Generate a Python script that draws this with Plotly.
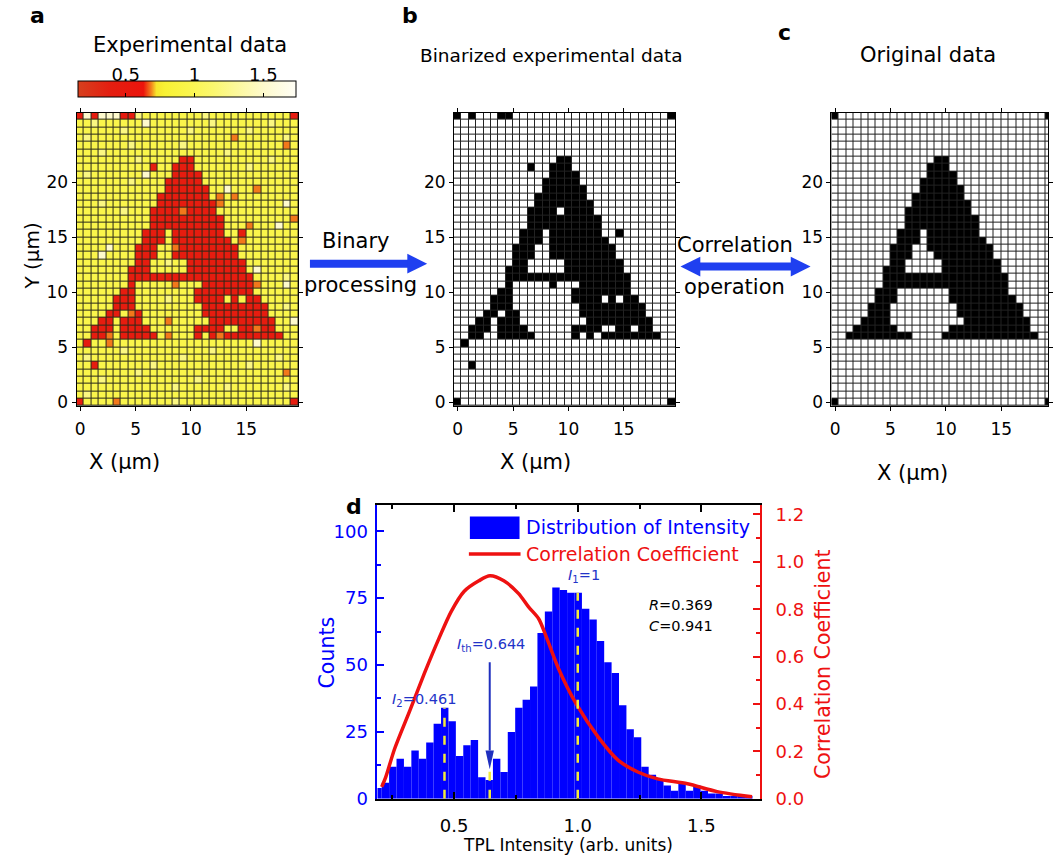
import plotly.graph_objects as go

W, H = 1053, 867
FONT = "DejaVu Sans"
BLUE = "#0000ff"
RED = "#ee1111"
LABEL_BLUE = "#2233c8"
ARROW_BLUE = "#1f3ff0"

# ---------------- panels a-c : 30 x 40 pixel grids (top row first) ----------------
CELL_PITCH = 2.0 / 3.0   # um per pixel
ORIGINAL_ROWS = [
    "#.... ..... ..... ..... ..... ....#",
    "..... ..... ..... ..... ..... .....",
    "..... ..... ..... ..... ..... .....",
    "..... ..... ..... ..... ..... .....",
    "..... ..... ..... ..... ..... .....",
    "..... ..... ..... ..... ..... .....",
    "..... ..... ....# #.... ..... .....",
    "..... ..... ...## #.... ..... .....",
    "..... ..... ...## ##... ..... .....",
    "..... ..... ..### ##... ..... .....",
    "..... ..... ..### ###.. ..... .....",
    "..... ..... .#### ###.. ..... .....",
    "..... ..... .#### ####. ..... .....",
    "..... ..... ##### ####. ..... .....",
    "..... ..... ##### ##### ..... .....",
    "..... ..... ##### ##### ..... .....",
    "..... ....# ##.## ##### ..... .....",
    "..... ....# ##.## ##### #.... .....",
    "..... ...## #..## ##### ##... .....",
    "..... ...## #...# ##### ##... .....",
    "..... ...## ..... ##### ###.. .....",
    "..... ..### ..... ##### ###.. .....",
    "..... ..### ##### ##### ####. .....",
    "..... ..### ##### ##### ####. .....",
    "..... .###. ..... .#### ####. .....",
    "..... .###. ..... .#### ##### .....",
    "..... ###.. ..... ..### ##### #....",
    "..... ###.. ..... ..### ##### #....",
    "....# ###.. ..... ...## ##### ##...",
    "...## ####. ..... .#### ##### ##...",
    "..### ##### #.... ##### ##### ###..",
    "..... ..... ..... ..... ..... .....",
    "..... ..... ..... ..... ..... .....",
    "..... ..... ..... ..... ..... .....",
    "..... ..... ..... ..... ..... .....",
    "..... ..... ..... ..... ..... .....",
    "..... ..... ..... ..... ..... .....",
    "..... ..... ..... ..... ..... .....",
    "..... ..... ..... ..... ..... .....",
    "#.... ..... ..... ..... ..... ....#",
]
BINARIZED_ROWS = [
    "#.#.. .##.. ..... ..... ..... ....#",
    "..... ..... ..... ..... ..... .....",
    "..... ..... ..... ..... ..... .....",
    "..... ..... ..... ..... ..... .....",
    "..... ..... ..... ..... ..... .....",
    "..... ..... ..... ..... ..... .....",
    "..... ..... ....# #.... ..... .....",
    "..... ..... #..## #.... ..... .....",
    "..... ..... ...## ##... ..... .....",
    "..... ..... ..### ##... ..... .....",
    "..... ..... ..### ###.. ..... .....",
    "..... ..... .#### ###.. ..... .....",
    "..... ..... .#### ####. ..... .....",
    "..... ..... ####. ####. ..... .....",
    "..... ..... ##### ##### ..... .....",
    "..... ..... ##### ##### ..... .....",
    "..... ....# ##.## ##### ..#.. .....",
    "..... ....# ##.## ##### #.... .....",
    "..... ...## #..## ##### ##... .....",
    "..... ...## #..## ##### ##... .....",
    "..... ...## ..... ##### ###.. .....",
    "..... ..### ..... ##### ###.. .....",
    "..... ..### ##### ##### ####. .....",
    "..... ..#.. ...#. ..### ####. .....",
    "..... .##.. ..... .#### ####. .....",
    "..... ###.. ..... .#### .#.## .....",
    "..... ###.. ..... ..### ##### #....",
    "....# #.##. ..... ..### ##### #....",
    "...## .###. ..... ...## ##### ##...",
    "..### .#### ..... .#### ..##. ##...",
    "..##. .#### #.... .#.#. ##### ###..",
    ".#... ..... ..... ..... ..... .....",
    "..... ..... ..... ..... ..... .....",
    "..... ..... ..... ..... ..... .....",
    "..#.. ..... ..... ..... ..... .....",
    "..... ..... ..... ..... ..... .....",
    "..... ..... ..... ..... ..... .....",
    "..... ..... ..... ..... ..... .....",
    "..... ..... ..... ..... ..... .....",
    "#.... ..... ..... ..... ..... ....#",
]
# r = red, o = orange, y = yellow, l = light yellow, w = pale
EXPERIMENTAL_ROWS = [
    "rwrww wrrly yyyyy yylyy yyyyy yyyyr",
    "yylyy yyyyw yyyyy yyyly yyyyy ylyyy",
    "yyyyy ylyyy yyyyy lyyyy yyyly yyyyy",
    "ylyyy yyyyy yyyyy yyyyy yoyyy yyyly",
    "yyyyy yylyy yyyyl yyyyy yyyyy yyyoy",
    "yyyly yyyyy yyyyy yyyyy lyyyy yyyyy",
    "yyyyy yyyly yyyyr ryyyy yyyyy ylyyy",
    "yyyyy yyyyy ryyrr ryyyy yyyly yyyyy",
    "ylyyy yyyyw yyyrr rryyy yyyyy yyyyy",
    "yyyyy yylyy yyrrr rryyy yyyyy yyyyy",
    "yyyyy yyyyy yyrrr rrryy wyyyo yyyyy",
    "yyyyy yyyyy yrrrr rrryo yoyyy yyyyy",
    "yyyly yyyyy yrrrr rrrro yyyyy yyywy",
    "yyyyy ylyyy rrrro rrrry yyyyy yyyyy",
    "yyyyy yyyyy rrrrr rrrrr yyyyy yyyyo",
    "yyyyy yyyyy rrrrr rrrrr yyyoy yywyy",
    "yyyyy yyyyr rryrr rrrrr yyryy yyyyy",
    "yyyyy yyyyr rryrr rrrrr ryoyy yyyyy",
    "yyyyw yyyrr ryyor rrrrr rryyy yyyyy",
    "yyywy yyyrr ryyrr rrrrr rryyy yyyyy",
    "yyyyy yyyrr yylyy rrrrr rrryy yyyyy",
    "yyyyy yyrrr yyyyy rrrrr rrryw yyyyy",
    "yyyyy yyrrr rrrrr rrrrr rrrry yyyly",
    "yyyyy yyryy yyyoy yyrrr rrrro yyywy",
    "yyyyy yrryy yyyyy yrrrr rrrry yyyyy",
    "yyyyy rrryy yylyy yrrrr yryrr yyyyy",
    "yyyyy rrryy yyyyy yyrrr rrrrr ryyly",
    "yyyyr ryory yyyyy yyrrr rrrrr ryyyy",
    "yyyrr yrrry yyoyy yyyrr rrrrr rryyw",
    "yyrrr yrrrr yyyyy yrrrr yyrro rryyy",
    "yyrro yrrrr ryoyy yryro rrrrr rrryy",
    "yryyo yyyyy yyyyy yyyyy yyyyw yyyyy",
    "yyyyy ylyyy yyyyy yyyly yyyyy yyyyy",
    "ylyyy yyyyy yyyyl yyyyy yyyyy yylyy",
    "yyryy yyyyy lyyyy yyyyy yyyly yyyyy",
    "yyyyy yyyly yyyyy yyyyy yyyyy yyyoy",
    "yyyly yyyyy yyyyy ylyyy yyyyy yyyyy",
    "yyyyy yyyyy yyyly yyyyy lyyyy yyyly",
    "ylyyy yyyyy yyyyy yyyyy yyyyy yyyyy",
    "ryyyy oyyyy yyyly yyyyy yyyyy yyyyr",
]
LEVEL_VALUES = {"r": 0.45, "o": 0.68, "y": 0.95, "l": 1.2, "w": 1.5}
BINARY_VALUES = {"#": 1, ".": 0}
ZMIN, ZMAX = 0.157, 1.73
COLORBAR_TICKS = [0.5, 1, 1.5]
COLORBAR_TICKTEXT = ["0.5", "1", "1.5"]
MAP_XTICKS = [0, 5, 10, 15]
MAP_YTICKS = [0, 5, 10, 15, 20]

# ---------------- panel d ----------------
BIN_WIDTH = 0.03
BIN_CENTERS = [0.192, 0.222, 0.252, 0.282, 0.312, 0.342, 0.372, 0.402, 0.432, 0.462,
               0.492, 0.522, 0.552, 0.582, 0.612, 0.642, 0.672, 0.702, 0.732, 0.762,
               0.792, 0.822, 0.852, 0.882, 0.912, 0.942, 0.972, 1.002, 1.032, 1.062,
               1.092, 1.122, 1.152, 1.182, 1.212, 1.242, 1.272, 1.302, 1.332, 1.362,
               1.392, 1.422, 1.452, 1.482, 1.512, 1.542, 1.572, 1.602, 1.632, 1.662,
               1.692, 1.722]
COUNTS = [4, 6, 12, 15, 12, 18, 15, 21, 28, 34,
          29, 16, 20, 22, 8, 7, 15, 10, 25, 34,
          37, 42, 62, 70, 79, 78, 77, 77, 71, 67,
          59, 51, 47, 35, 26, 23, 12, 9, 7, 5,
          3, 6, 3, 5, 3, 2, 2, 1, 1, 1,
          1, 0]
CORR_X = [0.207, 0.223, 0.259, 0.32, 0.38, 0.44, 0.488, 0.54, 0.60, 0.645, 0.701,
          0.761, 0.801, 0.842, 0.874, 0.922, 0.994, 1.083, 1.163, 1.243, 1.323,
          1.444, 1.564, 1.705]
CORR_Y = [0.05, 0.09, 0.21, 0.37, 0.53, 0.68, 0.79, 0.875, 0.92, 0.941, 0.92,
          0.866, 0.81, 0.76, 0.68, 0.55, 0.40, 0.26, 0.163, 0.113, 0.084,
          0.063, 0.03, 0.008]
MARK_X = [0.461, 0.644, 1.0]
MARK_TOP = [34, 11, 77]
COUNT_TICKS = [0, 25, 50, 75, 100]
COUNT_MINOR = [12.5, 37.5, 62.5, 87.5]
CORR_TICKS = [0.0, 0.2, 0.4, 0.6, 0.8, 1.0, 1.2]
CORR_MINOR = [0.1, 0.3, 0.5, 0.7, 0.9, 1.1]
INT_TICKS = [0.5, 1.0, 1.5]
INT_MINOR = [0.25, 0.75, 1.25]

COLORSCALE = [
    [0.0, "#d6401e"], [0.15, "#e41e10"], [0.30, "#ec140c"], [0.335, "#f2801c"],
    [0.36, "#f7e62c"], [0.40, "#f8f234"], [0.50, "#faf54a"], [0.62, "#fbf76e"],
    [0.72, "#fcf899"], [0.85, "#fefacc"], [1.0, "#fffef6"],
]


def grid(rows, mapping):
    return [[mapping[ch] for ch in row.replace(" ", "")] for row in reversed(rows)]


def px(x):
    return x / W


def py(y):
    return 1 - y / H


fig = go.Figure()

common_hm = dict(x0=0, dx=CELL_PITCH, y0=0, dy=CELL_PITCH, xgap=1, ygap=1, hoverinfo="skip")
fig.add_trace(go.Heatmap(
    z=grid(EXPERIMENTAL_ROWS, LEVEL_VALUES), zmin=ZMIN, zmax=ZMAX, colorscale=COLORSCALE,
    xaxis="x", yaxis="y",
    colorbar=dict(orientation="h", x=px((77 + 295) / 2), xanchor="center",
                  y=py(102), yanchor="bottom", len=218, lenmode="pixels",
                  thickness=16, thicknessmode="pixels", outlinewidth=1, outlinecolor="black",
                  ticks="inside", tickvals=COLORBAR_TICKS, ticklen=4, tickcolor="black",
                  showticklabels=False, xpad=0, ypad=0),
    **common_hm))
fig.add_trace(go.Heatmap(
    z=grid(BINARIZED_ROWS, BINARY_VALUES), zmin=0, zmax=1,
    colorscale=[[0, "white"], [1, "black"]], showscale=False,
    xaxis="x2", yaxis="y2", **common_hm))
fig.add_trace(go.Heatmap(
    z=grid(ORIGINAL_ROWS, BINARY_VALUES), zmin=0, zmax=1,
    colorscale=[[0, "white"], [1, "black"]], showscale=False,
    xaxis="x3", yaxis="y3", **common_hm))

# panel d
fig.add_trace(go.Bar(x=BIN_CENTERS, y=COUNTS, width=BIN_WIDTH,
                     marker=dict(color=BLUE, line_width=0),
                     xaxis="x4", yaxis="y4", hoverinfo="skip"))
fig.add_trace(go.Scatter(x=CORR_X, y=CORR_Y, mode="lines",
                         line=dict(color=RED, width=3.5, shape="spline", smoothing=0.8),
                         xaxis="x4", yaxis="y5", hoverinfo="skip"))
# colorbar tick-label axis
fig.add_trace(go.Scatter(x=[None], y=[None], xaxis="x5", yaxis="y6", hoverinfo="skip"))

tickfont = dict(family=FONT, size=17, color="black")


def map_axes(xdom, xrange_, ydom, yanchor, xanchor):
    xa = dict(domain=xdom, range=xrange_, tickvals=MAP_XTICKS, ticks="outside", ticklen=4,
              tickcolor="black", showline=True, linecolor="black", linewidth=1,
              mirror="ticks", showgrid=False, zeroline=False, tickfont=tickfont,
              anchor=yanchor, ticklabelstandoff=4)
    ya = dict(domain=ydom, range=[-CELL_PITCH / 2, 40 * CELL_PITCH - CELL_PITCH / 2],
              tickvals=MAP_YTICKS, ticks="outside", ticklen=4, tickcolor="black",
              showline=True, linecolor="black", linewidth=1, mirror="ticks",
              showgrid=False, zeroline=False, tickfont=tickfont, anchor=xanchor)
    return xa, ya


ydom_maps = [py(410), py(113)]
xr_full = [-CELL_PITCH / 2, 30 * CELL_PITCH - CELL_PITCH / 2]
px_per_um = 223 / 20.0
xa1, ya1 = map_axes([px(75), px(298)], xr_full, ydom_maps, "y", "x")
xa2, ya2 = map_axes([px(455), px(678)], xr_full, ydom_maps, "y2", "x2")
xa3, ya3 = map_axes([px(835), 1.0], [-CELL_PITCH / 2, -CELL_PITCH / 2 + 218 / px_per_um],
                    ydom_maps, "y3", "x3")

dfont = dict(family=FONT, size=18)
layout = dict(
    width=W, height=H, margin=dict(l=0, r=0, t=0, b=0),
    paper_bgcolor="white", plot_bgcolor="white", showlegend=False,
    font=dict(family=FONT, color="black"),
    xaxis=xa1, yaxis=ya1, xaxis2=xa2, yaxis2=ya2, xaxis3=xa3, yaxis3=ya3,
    xaxis4=dict(domain=[px(378), px(763)], range=[0.19, 1.737], anchor="y4",
                tickvals=INT_TICKS, ticktext=["0.5", "1.0", "1.5"], ticks="inside",
                ticklen=7, tickwidth=1.5, tickcolor="black", ticklabelstandoff=10,
                minor=dict(tickvals=INT_MINOR, ticks="inside", ticklen=4, tickcolor="black"),
                showline=True, linecolor="black", linewidth=2, mirror="ticks",
                showgrid=False, zeroline=False, tickfont=dict(dfont, color="black")),
    yaxis4=dict(domain=[py(808), py(510)], range=[0, 110], anchor="x4",
                tickvals=COUNT_TICKS, ticks="inside", ticklen=7, tickwidth=1.5,
                tickcolor=BLUE, minor=dict(tickvals=COUNT_MINOR, ticks="inside",
                                           ticklen=4, tickcolor=BLUE),
                showline=True, linecolor=BLUE, linewidth=2, showgrid=False,
                zeroline=False, tickfont=dict(dfont, color=BLUE), ticklabelstandoff=4),
    yaxis5=dict(range=[0, 1.242], overlaying="y4", anchor="x4", side="right",
                tickvals=CORR_TICKS, ticktext=["%.1f" % v for v in CORR_TICKS],
                ticks="inside", ticklen=7, tickwidth=1.5, tickcolor=RED,
                minor=dict(tickvals=CORR_MINOR, ticks="inside", ticklen=4, tickcolor=RED),
                showline=True, linecolor=RED, linewidth=2, showgrid=False,
                zeroline=False, tickfont=dict(dfont, color=RED), ticklabelstandoff=10),
    xaxis5=dict(domain=[px(77), px(295)], range=[ZMIN, ZMAX], anchor="y6", side="top",
                tickvals=COLORBAR_TICKS, ticktext=COLORBAR_TICKTEXT, ticks="",
                showline=False, showgrid=False, zeroline=False,
                tickfont=dict(family=FONT, size=18, color="black")),
    yaxis6=dict(domain=[py(102), py(86)], range=[0, 1], visible=False, anchor="x5"),
)
fig.update_layout(**layout)

# dark grid background under the pixel maps
for xr, yr, col in (("x", "y", "#2a2a1a"), ("x2", "y2", "#222222"), ("x3", "y3", "#222222")):
    fig.add_shape(type="rect", xref=xr + " domain", yref=yr + " domain", x0=0, x1=1,
                  y0=0, y1=1, fillcolor=col, line_width=0, layer="below")

# yellow dashed markers in panel d
for xv, top in zip(MARK_X, MARK_TOP):
    fig.add_shape(type="line", xref="x4", yref="y4", x0=xv, x1=xv, y0=0, y1=top,
                  line=dict(color="#f2ea3a", width=2.5, dash="dash"))

# threshold arrow (shaft + head) in panel d
ARROW_START = 51
ARROW_HEAD_BASE = 18
fig.add_shape(type="line", xref="x4", yref="y4", x0=MARK_X[1], x1=MARK_X[1],
              y0=ARROW_START, y1=ARROW_HEAD_BASE, line=dict(color="#1f2fbf", width=2))
fig.add_shape(type="path", xref="x4", yref="y4",
              path="M %.4f,%.2f L %.4f,%.2f L %.4f,%.2f Z" % (
                  MARK_X[1] - 0.017, ARROW_HEAD_BASE, MARK_X[1] + 0.017, ARROW_HEAD_BASE,
                  MARK_X[1], MARK_TOP[1]),
              fillcolor="#1f2fbf", line_width=0)

# manual legend swatches (panel d)
fig.add_shape(type="rect", xref="paper", yref="paper", x0=px(471), x1=px(521),
              y0=py(545), y1=py(522), fillcolor=BLUE, line_width=0)
fig.add_shape(type="line", xref="paper", yref="paper", x0=px(470), x1=px(522),
              y0=py(560), y1=py(560), line=dict(color=RED, width=3.5))


def arrow_shapes(x_start, x_end, y, double=False):
    head_len, half = 20, 10
    x0 = x_start + (head_len - 2 if double else 0)
    x1 = x_end - (head_len - 2)
    fig.add_shape(type="line", xref="paper", yref="paper", x0=px(x0), x1=px(x1),
                  y0=py(y), y1=py(y), line=dict(color=ARROW_BLUE, width=8))
    heads = [(x_end, -1)] + ([(x_start, 1)] if double else [])
    for tip, sgn in heads:
        base = tip + sgn * head_len
        fig.add_shape(type="path", xref="paper", yref="paper",
                      path="M %.5f,%.5f L %.5f,%.5f L %.5f,%.5f Z" % (
                          px(base), py(y - half), px(base), py(y + half), px(tip), py(y)),
                      fillcolor=ARROW_BLUE, line_width=0)


arrow_shapes(310, 428, 266)
arrow_shapes(683, 814, 269, double=True)


def text(x, y, s, size=18, color="black", angle=0, xanchor="center", bold=False):
    if bold:
        s = "<b>" + s + "</b>"
    fig.add_annotation(x=px(x), y=py(y), xref="paper", yref="paper", text=s,
                       showarrow=False, textangle=angle, xanchor=xanchor, yanchor="middle",
                       font=dict(family=FONT, size=size, color=color))


# panel letters & titles
text(36, 15, "a", 22, bold=True)
text(411, 15, "b", 22, bold=True)
text(788, 32, "c", 22, bold=True)
text(354, 512, "d", 22, bold=True)
text(189, 45, "Experimental data", 21)
text(553, 55, "Binarized experimental data", 18.5)
text(932, 55, "Original data", 21)
text(30, 258, "Y (\u03bcm)", 20, angle=-90)
text(123, 467, "X (\u03bcm)", 21)
text(537, 467, "X (\u03bcm)", 21)
text(917, 478, "X (\u03bcm)", 21)

# process arrow labels
text(356, 243, "Binary", 21)
text(361, 288, "processing", 21)
text(738, 247, "Correlation", 21)
text(737, 290, "operation", 21)

# panel d labels
text(327, 660, "Counts", 20.5, color=BLUE, angle=-90)
text(827, 672, "Correlation Coefficient", 20.5, color=RED, angle=-90)
text(570, 855, "TPL Intensity (arb. units)", 17)
text(525, 533, "Distribution of Intensity", 19, color=BLUE, xanchor="left")
text(525, 560, "Correlation Coefficient", 19, color=RED, xanchor="left")
text(425, 708, "<i>I</i><sub>2</sub>=0.461", 14.5, color=LABEL_BLUE)
text(492, 652, "<i>I</i><sub>th</sub>=0.644", 14.5, color=LABEL_BLUE)
text(586, 582, "<i>I</i><sub>1</sub>=1", 14.5, color=LABEL_BLUE)
text(684, 612, "<i>R</i>=0.369", 14.5)
text(684, 633, "<i>C</i>=0.941", 14.5)

fig.write_html("out.html", config={"displayModeBar": False})
